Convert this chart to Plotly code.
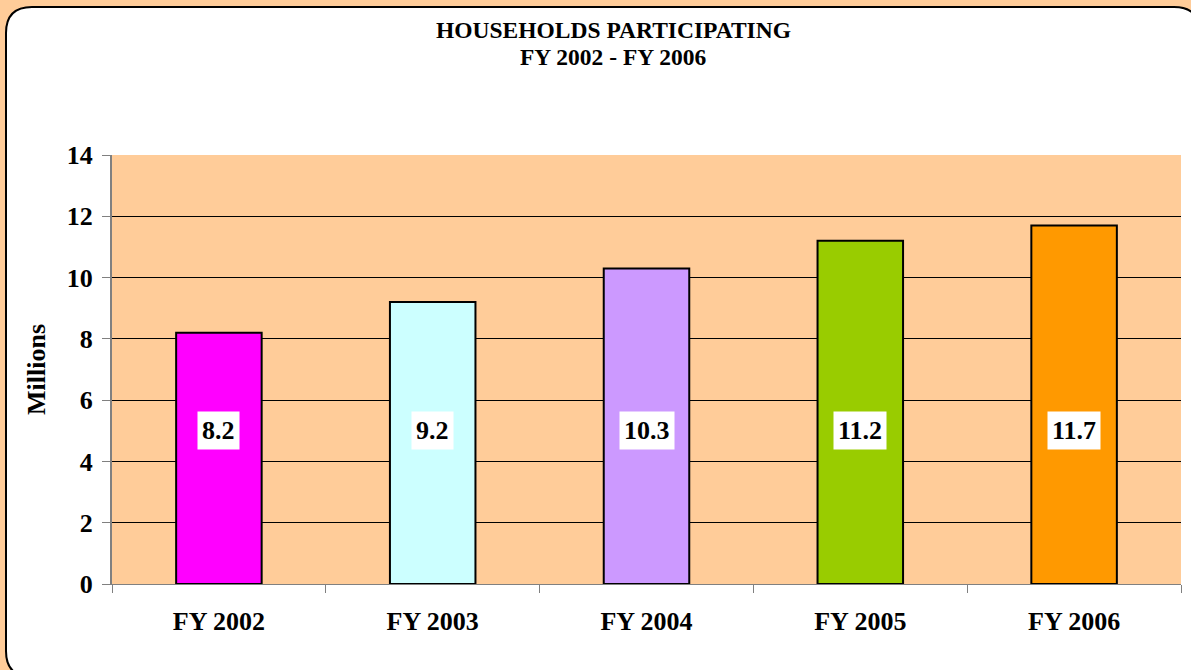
import plotly.graph_objects as go

# Données
years = ["FY 2002", "FY 2003", "FY 2004", "FY 2005", "FY 2006"]
households = [8.2, 9.2, 10.3, 11.2, 11.7]
bar_colors = ["#FF00FF", "#CCFFFF", "#CC99FF", "#99CC00", "#FF9900"]
y_ticks = [0, 2, 4, 6, 8, 10, 12, 14]
title_lines = ["HOUSEHOLDS PARTICIPATING", "FY 2002 - FY 2006"]

W, H = 1191, 670
ML, MR, MT, MB = 112, 10, 155, 86
FONT = "Liberation Serif, Times New Roman, serif"
PEACH = "#FFCC99"


def px(x, y):
    # pixels -> coordonnées paper
    return (x - ML) / (W - ML - MR), (H - MB - y) / (H - MT - MB)


def rounded_rect(x0, y0, x1, y1, r):
    pts = [
        ("M", [(x0 + r, y0)]),
        ("L", [(x1 - r, y0)]),
        ("Q", [(x1, y0), (x1, y0 + r)]),
        ("L", [(x1, y1 - r)]),
        ("Q", [(x1, y1), (x1 - r, y1)]),
        ("L", [(x0 + r, y1)]),
        ("Q", [(x0, y1), (x0, y1 - r)]),
        ("L", [(x0, y0 + r)]),
        ("Q", [(x0, y0), (x0 + r, y0)]),
    ]
    out = []
    for cmd, coords in pts:
        s = " ".join("%.5f,%.5f" % px(a, b) for a, b in coords)
        out.append(cmd + " " + s)
    return " ".join(out) + " Z"


fig = go.Figure()

fig.add_trace(go.Bar(
    x=years,
    y=households,
    marker=dict(color=bar_colors, line=dict(color="black", width=2)),
    width=0.4,
    hoverinfo="x+y",
))

# étiquettes dans des boîtes blanches
for yr, v in zip(years, households):
    fig.add_annotation(
        x=yr, y=5, text="<b>%s</b>" % v, showarrow=False,
        bgcolor="white", borderpad=4,
        font=dict(family=FONT, size=26, color="black"),
    )

# titre sur deux lignes
for i, line in enumerate(title_lines):
    tx, ty = px(613, 30 + 27 * i)
    fig.add_annotation(
        x=tx, y=ty, xref="paper", yref="paper", text="<b>%s</b>" % line,
        showarrow=False, xanchor="center", yanchor="middle",
        font=dict(family=FONT, size=23.5, color="black"),
    )

# cadre blanc arrondi + fond de la zone de tracé
fig.add_shape(
    type="path", xref="paper", yref="paper",
    path=rounded_rect(6, 7, 1200, 677, 26),
    fillcolor="white", line=dict(color="black", width=2),
    layer="below",
)
fig.add_shape(
    type="rect", xref="paper", yref="paper", x0=0, x1=1, y0=0, y1=1,
    fillcolor=PEACH, line=dict(width=0), layer="below",
)

fig.update_layout(
    width=W, height=H,
    margin=dict(l=ML, r=MR, t=MT, b=MB),
    paper_bgcolor=PEACH,
    plot_bgcolor=PEACH,
    showlegend=False,
    bargap=0.6,
    font=dict(family=FONT, color="black"),
)

fig.update_xaxes(
    tickson="boundaries", ticks="outside", ticklen=8, tickcolor="#808080",
    showline=True, linecolor="#808080", linewidth=1,
    showgrid=False, ticklabelstandoff=14,
    tickfont=dict(family=FONT, size=26, color="black", weight="bold"),
)
fig.update_yaxes(
    range=[0, 14], tickvals=y_ticks, ticks="outside", ticklen=8, tickcolor="#808080",
    showline=True, linecolor="#808080", linewidth=2,
    showgrid=True, gridcolor="black", gridwidth=1,
    zeroline=False, ticklabelstandoff=4,
    tickfont=dict(family=FONT, size=26, color="black", weight="bold"),
    title=dict(text="<b>Millions</b>", font=dict(family=FONT, size=26, color="black"), standoff=14),
)

fig.write_html("out.html", config=dict(displayModeBar=False),
               post_script="document.body.style.margin='0';")
